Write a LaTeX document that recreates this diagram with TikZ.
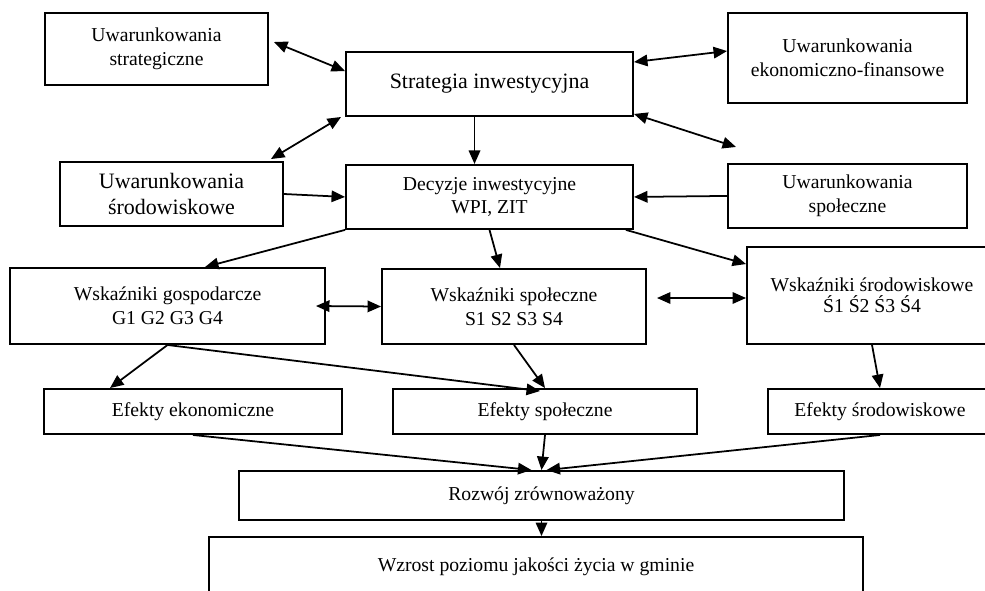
\documentclass[tikz,border=0pt]{standalone}
\usepackage{fontspec}
\setmainfont{Liberation Serif}
\usepackage{tikz}
\usetikzlibrary{positioning,arrows.meta}

\begin{document}
\begin{tikzpicture}[
    font=\fontsize{11.2}{13.5}\selectfont,
    b/.style={draw, line width=1.1pt, align=center, inner sep=2pt},
    big/.style={b, font=\fontsize{12.5}{14.6}\selectfont},
    fl/.style={-{Triangle[length=2.7mm, width=2.3mm]}, line width=1pt},
    dfl/.style={{Triangle[length=2.7mm, width=2.3mm]}-{Triangle[length=2.7mm, width=2.3mm]}, line width=1pt},
]
    \useasboundingbox (0,0) rectangle (19.7,-11.8);
    \node[b, minimum width=4.46cm, minimum height=1.44cm] (us) at (3.13,-0.98) {Uwarunkowania\\strategiczne};
    \node[big, minimum width=5.74cm, minimum height=1.28cm] (si) at (9.79,-1.68) {Strategia inwestycyjna};
    \node[b, minimum width=4.78cm, minimum height=1.80cm] (uef) at (16.95,-1.16) {Uwarunkowania\\ekonomiczno-finansowe};
    \node[big, minimum width=4.46cm, minimum height=1.28cm] (usr) at (3.43,-3.88) {Uwarunkowania\\środowiskowe};
    \node[b, minimum width=5.74cm, minimum height=1.28cm, below=0.94cm of si] (di) {Decyzje inwestycyjne\\WPI, ZIT};
    \node[b, minimum width=4.78cm, minimum height=1.28cm, below=1.18cm of uef] (usp) {Uwarunkowania\\społeczne};
    \node[b, minimum width=6.30cm, minimum height=1.52cm] (wg) at (3.35,-6.12) {Wskaźniki gospodarcze\\G1 G2 G3 G4};
    \node[b, minimum width=5.28cm, minimum height=1.50cm] (ws) at (10.28,-6.13) {Wskaźniki społeczne\\S1 S2 S3 S4};
    \node[b, minimum width=5.00cm, minimum height=1.94cm, font=\fontsize{11.2}{12}\selectfont] (wsr) at (17.44,-5.91) {Wskaźniki środowiskowe\\Ś1 Ś2 Ś3 Ś4};
    \node[b, minimum width=5.96cm, minimum height=0.90cm] (ee) at (3.86,-8.23) {Efekty ekonomiczne};
    \node[b, minimum width=6.08cm, minimum height=0.90cm] (es) at (10.90,-8.23) {Efekty społeczne};
    \node[b, minimum width=4.48cm, minimum height=0.90cm] (esr) at (17.60,-8.23) {Efekty środowiskowe};
    \node[b, minimum width=12.10cm, minimum height=0.98cm] (rz) at (10.83,-9.91) {Rozwój zrównoważony};
    \node[b, minimum width=13.08cm, minimum height=1.20cm] (wz) at (10.72,-11.34) {Wzrost poziomu jakości życia w gminie};
    \coordinate (sq) at ([xshift=1.8mm,yshift=3.2mm]usp.north west);
    \draw[dfl] ([xshift=1mm,yshift=1.4mm]us.east) -- ([yshift=-4mm]si.north west);
    \draw[dfl] ([xshift=-0.8mm]si.south west) -- ([xshift=-2.6mm,yshift=0.4mm]usr.north east);
    \draw[dfl] ([yshift=-2.2mm]si.north east) -- ([yshift=-7.8mm]uef.north west);
    \draw[dfl] ([yshift=0.6mm]si.south east) -- (sq);
    \draw[fl] ([xshift=-3mm]si.south) -- ([xshift=-3mm]di.north);
    \draw[fl] (usr.east) -- (di.west); \draw[fl] (usp.west) -- (di.east);
    \draw[fl] (di.south west) -- ([xshift=7.5mm]wg.north);
    \draw[fl] (di.south) -- ([xshift=-2.8mm]ws.north);
    \draw[fl] ([xshift=-1.6mm]di.south east) -- ([yshift=-3.6mm]wsr.north west);
    \draw[dfl] ([xshift=-2mm]wg.east) -- (ws.west);
    \draw[dfl] ([xshift=2mm,yshift=1.7mm]ws.east) -- ([yshift=-0.5mm]wsr.west);
    \draw[fl] (wg.south) -- ([xshift=-16.6mm]ee.north);
    \draw[fl] (wg.south) -- ([xshift=-1mm,yshift=-0.6mm]es.north);
    \draw[fl] (ws.south) -- (es.north); \draw[fl] (wsr.south) -- (esr.north);
    \draw[fl] (ee.south) -- ([xshift=-2mm]rz.north);
    \draw[fl] (es.south) -- (rz.north);
    \draw[fl] (esr.south) -- ([xshift=1mm]rz.north);
    \draw[fl] (rz.south) -- (rz.south |- wz.north);
\end{tikzpicture}
\end{document}
